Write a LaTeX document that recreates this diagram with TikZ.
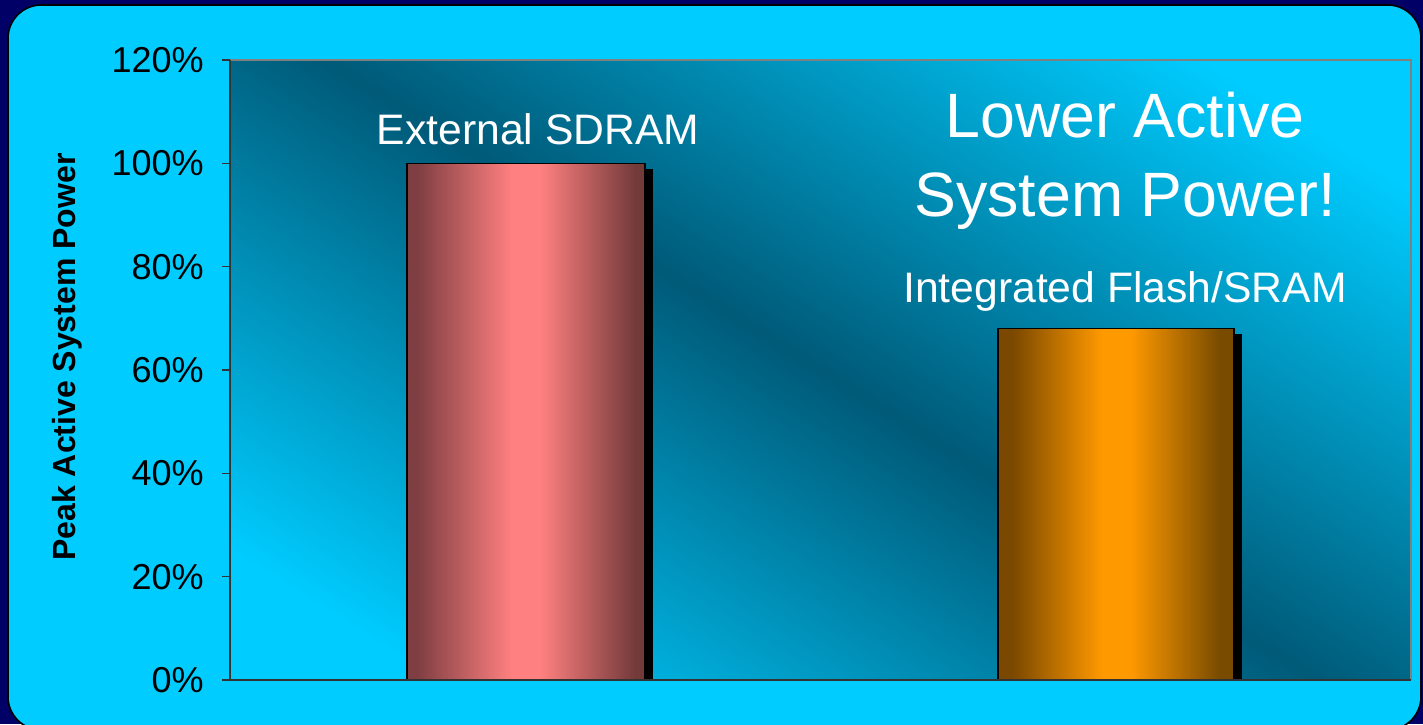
\documentclass[tikz,border=0pt]{standalone}
\usepackage{xcolor}
\usepackage{tikz}
\usepackage{fontspec}
\setmainfont{Liberation Sans}
\usetikzlibrary{calc,shadings,positioning}
\definecolor{slidenavy}{RGB}{0,0,102}
\definecolor{slidecyan}{RGB}{0,204,255}
\definecolor{plotteal}{RGB}{0,90,120}
\definecolor{framegray}{RGB}{128,128,128}
\definecolor{axisdark}{RGB}{51,51,51}
\definecolor{sdrampink}{RGB}{255,128,128}
\definecolor{sdramleft}{RGB}{126,62,66}
\definecolor{sdramright}{RGB}{115,58,58}
\definecolor{flashorange}{RGB}{255,153,0}
\definecolor{flashleft}{RGB}{122,72,0}
\definecolor{flashright}{RGB}{120,75,0}
\pgfdeclareverticalshading{plotglow}{100bp}{color(0bp)=(slidecyan); color(22bp)=(slidecyan); color(50bp)=(plotteal); color(78bp)=(slidecyan); color(100bp)=(slidecyan)}
\pgfdeclarehorizontalshading{sdramglow}{100bp}{color(0bp)=(sdramleft); color(27bp)=(sdramleft); color(47bp)=(sdrampink); color(53bp)=(sdrampink); color(73bp)=(sdramright); color(100bp)=(sdramright)}
\pgfdeclarehorizontalshading{flashglow}{100bp}{color(0bp)=(flashleft); color(28bp)=(flashleft); color(47bp)=(flashorange); color(53bp)=(flashorange); color(72bp)=(flashright); color(100bp)=(flashright)}

\begin{document}
\begin{tikzpicture}[x=0.75pt,y=0.75pt,
    ticklabel/.style={anchor=east,inner sep=0pt,font=\fontsize{27}{32}\selectfont},
    barlabel/.style={anchor=base,inner sep=0pt,text=white,font=\fontsize{32}{38}\selectfont},
    headline/.style={anchor=base,inner sep=0pt,text=white,font=\fontsize{47}{56}\selectfont},
    barshadow/.style={fill=black},
    baredge/.style={draw=black,line width=1pt}]
    \useasboundingbox (0,0) rectangle (1423,724);

    % Draw slide background
    \fill[slidenavy] (0,0) rectangle (1423,724);
    \draw[black,line width=1.2pt,fill=slidecyan,rounded corners=25] (8,-6) rectangle (1421,719);

    % Draw plot area
    \shade[shading=plotglow,shading angle=-32] (230,44) rectangle (1411,664);
    \draw[framegray,line width=1.5pt] (230,664) -- (1411,664) -- (1411,44);

    % Draw bar shadows
    \fill[barshadow] (415,44) rectangle (653,555);
    \fill[barshadow] (1006,44) rectangle (1242,390);

    % Draw bars
    \shade[baredge,shading=sdramglow] (407,44) rectangle (645,560.7);
    \shade[baredge,shading=flashglow] (998,44) rectangle (1234,395.3);

    % Draw axes and ticks
    \draw[axisdark,line width=1pt] (230,664) -- (230,44) -- (1411,44);
    \foreach \v in {0,20,...,120} {
        \draw[axisdark,line width=1pt] (222,44+\v*5.1667) -- (230,44+\v*5.1667);
        \node[ticklabel] (tick\v) at (204,44+\v*5.1667) {\v\%};
    }
    \node[rotate=90,font=\fontsize{24}{29}\selectfont\bfseries] (ytitle) at (67,367) {Peak Active System Power};

    % Draw labels
    \node[barlabel] (sdramlabel) at (538,579) {External SDRAM};
    \node[barlabel] (flashlabel) at (1125,421) {Integrated Flash/SRAM};
    \node[headline] (headtop) at (1125,586) {Lower Active};
    \node[headline] (headbottom) at (1125,507) {System Power!};
\end{tikzpicture}
\end{document}
